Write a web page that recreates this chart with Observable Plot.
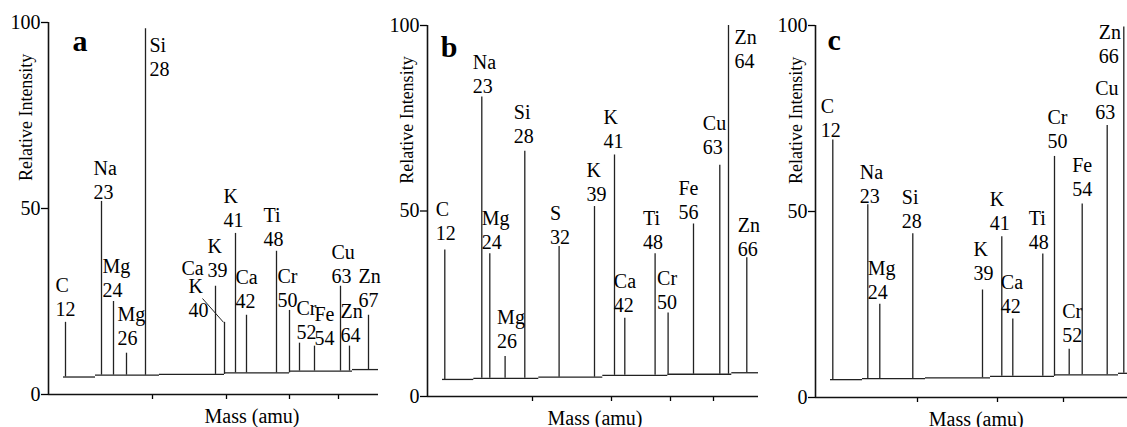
<!DOCTYPE html>
<html><head><meta charset="utf-8">
<script src="https://cdn.jsdelivr.net/npm/d3@7"></script>
<script src="https://cdn.jsdelivr.net/npm/@observablehq/plot@0.6"></script>
<style>
html,body{margin:0;padding:0;background:#fff;}
#row{display:flex;flex-direction:row;align-items:flex-start;width:1127px;height:427px;overflow:hidden;}
#row svg{display:block;flex:none;}
</style></head><body><div id="row"></div>
<script>
// ---------- Panel a ----------
const aMass      = [12, 23, 24, 26, 28, 39, 40, 41, 42, 48, 50, 52, 54, 63, 64, 67];
const aElement   = ["C","Na","Mg","Mg","Si","K","Ca/K","K","Ca","Ti","Cr","Cr","Fe","Cu","Zn","Zn"];
const aTime      = [17, 53, 65, 78, 97, 167, 176, 187, 198, 228, 241, 251, 266, 292, 301, 320];
const aIntensity = [19.4, 51.9, 25.0, 11.1, 98.3, 29.1, 19.4, 43.3, 21.3, 38.5, 22.6, 13.8, 13.0, 29.1, 13.0, 21.3];
const aBaseStart = [15, 47, 111, 176, 241, 304];
const aBaseEnd   = [47, 111, 176, 241, 304, 330];
const aBaseLevel = [4.7, 5.2, 5.4, 5.8, 6.3, 6.7];
const aTicks     = [104, 178, 241, 290];

// ---------- Panel b ----------
const bMass      = [12, 23, 24, 26, 28, 32, 39, 41, 42, 48, 50, 56, 63, 64, 66];
const bElement   = ["C","Na","Mg","Mg","Si","S","K","K","Ca","Ti","Cr","Fe","Cu","Zn","Zn"];
const bTime      = [17.3, 54.3, 62.3, 77.6, 97.3, 131.6, 167, 187, 197.3, 227.6, 240.6, 266, 292.3, 301, 319.3];
const bIntensity = [39.5, 80.7, 38.5, 10.8, 66.1, 40.4, 51.2, 65.1, 21.1, 38.5, 22.5, 46.5, 62.3, 100, 37.4];
const bBaseStart = [15, 46.3, 111.3, 175.3, 240.3, 304.3];
const bBaseEnd   = [46.3, 111.3, 175.3, 240.3, 304.3, 331];
const bBaseLevel = [4.6, 4.9, 5.2, 5.7, 6.0, 6.4];
const bTicks     = [105, 184, 243, 286];

// ---------- Panel c ----------
const cMass      = [12, 23, 24, 28, 39, 41, 42, 48, 50, 52, 54, 63, 66];
const cElement   = ["C","Na","Mg","Si","K","K","Ca","Ti","Cr","Cr","Fe","Cu","Zn"];
const cTime      = [17.3, 52.3, 64.3, 97.3, 167, 186.3, 197.3, 227.3, 239, 253.7, 266.7, 291.7, 308.3];
const cIntensity = [69.2, 51.8, 25.1, 44.0, 28.9, 43.2, 21.1, 38.6, 64.8, 13.0, 52.0, 73.1, 99.6];
const cBaseStart = [15, 47, 110, 175, 239, 303];
const cBaseEnd   = [47, 110, 175, 239, 303, 312];
const cBaseLevel = [4.8, 5.1, 5.3, 5.7, 6.1, 6.5];
const cTicks     = [102, 182, 248];

const yTicks = [0, 50, 100];

// label placement (px offsets of the mass-number baseline from the peak top)
const aLabelOffsets = [[-10,-6],[-8,-2],[-11,-5],[-9,-8],[4,47],[-8,-9],[-36,-5],[-12,-6],[-11,-7],[-13,-5],[-12,-3],[-3,-4],[0,-1],[-9,-3],[-9,-4],[-10,-8]];
const bLabelOffsets = [[-9,-10],[-9,-4],[-8,-5],[-8,-8],[-11,-8],[-9,-3],[-8,-6],[-11,-7],[-11,-6],[-12,-5],[-11,-4],[-15,-5],[-17,-11],[6,42],[-9,-2]];
const cLabelOffsets = [[-12,-3],[-8,-2],[-12,-5],[-11,-6],[-9,-10],[-12,-7],[-12,-6],[-14,-5],[-7,-8],[-7,-7],[-10,-8],[-12,-7],[-25,36]];

const FONT = "'Liberation Serif', 'Times New Roman', serif";

function panel(cfg) {
  const peaks = cfg.mass.map((m, i) => ({mass: m, el: cfg.element[i], t: cfg.time[i], v: cfg.intensity[i], off: cfg.offsets[i]}));
  const base = cfg.baseStart.map((s, i) => ({x1: s, x2: cfg.baseEnd[i], y: cfg.baseLevel[i]}));
  const baseAt = t => (base.find(b => t >= b.x1 && t <= b.x2) || base[base.length - 1]).y;
  peaks.forEach(p => p.b = baseAt(p.t));

  const labelMarks = peaks.map(p => {
    const txt = p.el === "Ca/K" ? `K\n${p.mass}` : `${p.el}\n${p.mass}`;
    return Plot.text([p], {x: "t", y: "v", text: () => txt, dx: p.off[0], dy: p.off[1],
      textAnchor: "start", lineAnchor: "bottom", lineHeight: 1.2, fontSize: 20, fontFamily: FONT, fill: "#000"});
  });
  const extra = [];
  const ck = peaks.find(p => p.el === "Ca/K");
  if (ck) {
    extra.push(Plot.text([ck], {x: "t", y: "v", text: () => "Ca", dx: -43, dy: -47, textAnchor: "start", lineAnchor: "bottom", fontSize: 20, fontFamily: FONT, fill: "#000"}));
    extra.push(Plot.link([ck], {x1: d => d.t - 22, y1: d => d.v + 6.4, x2: d => d.t - 1, y2: "v", stroke: "#222", strokeWidth: 1}));
  }

  return Plot.plot({
    width: cfg.width, height: 427,
    marginLeft: cfg.ml, marginRight: cfg.mr, marginTop: cfg.mt, marginBottom: cfg.mb,
    style: {fontFamily: FONT, fontSize: "20px", color: "#000", background: "transparent", overflow: "visible"},
    x: {domain: [0, cfg.xmax]},
    y: {domain: [0, 100]},
    marks: [
      Plot.axisY(yTicks, {tickSize: 7, tickPadding: 1, label: null, fontSize: 20, strokeWidth: 1.3}),
      Plot.axisX(cfg.ticks, {tickSize: 5, tickFormat: () => "", label: null, strokeWidth: 1.3}),
      Plot.ruleX([0], {stroke: "#111", strokeWidth: 1.6}),
      Plot.ruleY([0], {stroke: "#111", strokeWidth: 1.6}),
      Plot.ruleY(base, {x1: "x1", x2: "x2", y: "y", stroke: "#222", strokeWidth: 1.3}),
      Plot.ruleX(peaks, {x: "t", y1: "b", y2: "v", stroke: "#222", strokeWidth: 1.3}),
      ...labelMarks,
      ...extra,
      Plot.text([cfg.letter], {x: () => cfg.letterAt[0], y: () => cfg.letterAt[1], text: d => d, textAnchor: "start", lineAnchor: "bottom", fontSize: 30, fontWeight: "bold", fontFamily: FONT, fill: "#000"}),
      Plot.text(["Relative Intensity"], {frameAnchor: "left", y: () => 74.5, text: d => d, rotate: -90, dx: cfg.ylabDx, textAnchor: "middle", lineAnchor: "middle", fontSize: 18, fontFamily: FONT, fill: "#000"}),
      Plot.text(["Mass (amu)"], {frameAnchor: "bottom", x: () => cfg.xlabAt, text: d => d, dy: 28, textAnchor: "middle", lineAnchor: "bottom", fontSize: 20, fontFamily: FONT, fill: "#000"})
    ]
  });
}

const row = document.getElementById("row");
row.append(panel({mass: aMass, element: aElement, time: aTime, intensity: aIntensity, offsets: aLabelOffsets,
  baseStart: aBaseStart, baseEnd: aBaseEnd, baseLevel: aBaseLevel, ticks: aTicks,
  width: 380, ml: 48, mr: 2, mt: 22, mb: 33, xmax: 330, letter: "a", letterAt: [24, 92.4], ylabDx: -22, xlabAt: 203.5}));
row.append(panel({mass: bMass, element: bElement, time: bTime, intensity: bIntensity, offsets: bLabelOffsets,
  baseStart: bBaseStart, baseEnd: bBaseEnd, baseLevel: bBaseLevel, ticks: bTicks,
  width: 380, ml: 47, mr: 2, mt: 25, mb: 31, xmax: 331, letter: "b", letterAt: [13.3, 91.4], ylabDx: -20, xlabAt: 167.5}));
row.append(panel({mass: cMass, element: cElement, time: cTime, intensity: cIntensity, offsets: cLabelOffsets,
  baseStart: cBaseStart, baseEnd: cBaseEnd, baseLevel: cBaseLevel, ticks: cTicks,
  width: 367, ml: 55, mr: 0, mt: 25, mb: 30, xmax: 312, letter: "c", letterAt: [12, 93.5], ylabDx: -19, xlabAt: 160.7}));
</script></body></html>
